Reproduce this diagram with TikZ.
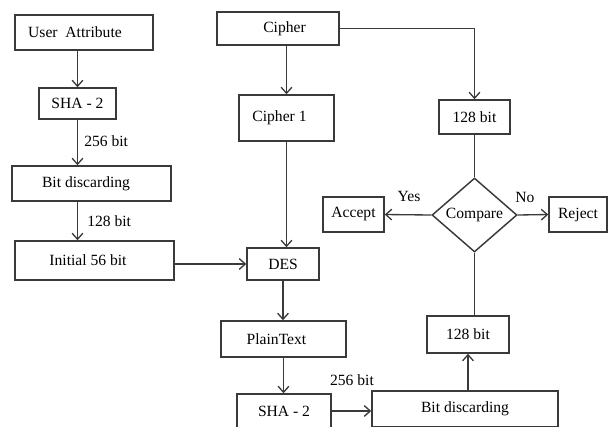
\documentclass[tikz,border=0pt]{standalone}
\usepackage{fontspec}
\setmainfont{Liberation Serif}
\usetikzlibrary{arrows.meta,shapes.geometric}
\definecolor{ln}{HTML}{3A3A3A}
\begin{document}
\begin{tikzpicture}[x=0.75pt,y=-0.75pt,
  font=\fontsize{11.7}{14}\selectfont,
  bx/.style={draw=ln,line width=1.1pt,rectangle,inner sep=0pt,text=black},
  arr/.style={draw=ln,line width=1pt,-{Straight Barb[length=4.5pt,width=8pt]}},
  ln/.style={draw=ln,line width=1pt},
  lbl/.style={inner sep=0pt,text=black}]
\clip (0,0) rectangle (610,426);
% left column
\node[bx,minimum width=103.5pt,minimum height=26.25pt] (ua) at (84,32.5) {User\ \ Attribute\hspace*{13.5pt}};
\node[bx,minimum width=57.75pt,minimum height=23.25pt] (sha1) at (77.5,103.5) {SHA - 2};
\node[bx,minimum width=119.25pt,minimum height=26.25pt] (bd1) at (91.5,183.5) {Bit discarding\hspace*{8.25pt}};
\node[bx,minimum width=119.25pt,minimum height=29.25pt] (init) at (94.5,260.5) {Initial 56 bit\hspace*{9.75pt}};
% middle column
\node[bx,minimum width=91.5pt,minimum height=24.75pt] (ci) at (278,28.5) {\hspace*{9.75pt}Cipher};
\node[bx,minimum width=71.25pt,minimum height=34.5pt] (c1) at (286.5,118) {Cipher 1\hspace*{10.5pt}};
\node[bx,minimum width=54pt,minimum height=24pt] (des) at (283,264) {DES};
\node[bx,minimum width=93.75pt,minimum height=27pt] (pt) at (283.5,339) {PlainText\hspace*{10.5pt}};
\node[bx,minimum width=70.5pt,minimum height=25.5pt] (sha2) at (284,411) {SHA - 2};
% right column
\node[bx,minimum width=53.25pt,minimum height=25.5pt] (ba) at (474.5,117) {128 bit};
\node[bx,diamond,minimum width=63.75pt,minimum height=55.5pt] (cmp) at (474.5,215) {Compare};
\node[bx,minimum width=45.75pt,minimum height=26.25pt] (acc) at (353.5,214.5) {Accept};
\node[bx,minimum width=43.5pt,minimum height=26.25pt] (rej) at (578,214.5) {Reject};
\node[bx,minimum width=61.5pt,minimum height=27.75pt] (bb) at (468,334.5) {128 bit};
\node[bx,minimum width=139.5pt,minimum height=27pt] (bd2) at (465,409) {Bit discarding};
% labels
\node[lbl,anchor=west] (l256a) at (84,141) {256 bit};
\node[lbl,anchor=west] (l128a) at (87,221) {128 bit};
\node[lbl] (lyes) at (409,196) {Yes};
\node[lbl] (lno) at (525,197) {No};
\node[lbl] (l256b) at (352,380) {256 bit};
% connectors
\draw[arr] (sha1.north |- ua.south) -- (sha1.north);
\draw[arr] (sha1.south) -- (sha1.south |- bd1.north);
\draw[arr] (sha1.south |- bd1.south) -- (sha1.south |- init.north);
\draw[arr] (des.west -| init.east) -- (des.west);
\draw[arr] (ci.south -| c1.north) -- (c1.north);
\draw[arr] (c1.south) -- (c1.south |- des.north);
\draw[arr] (ci.east) -| (ba.north);
\draw[ln] (ba.south) -- (cmp.north);
\draw[arr] (cmp.west) -- (acc.east);
\draw[arr] (cmp.east) -- (rej.west);
\draw[ln] (cmp.south) -- (cmp.south |- bb.north);
\draw[arr] (bd2.north -| bb.south) -- (bb.south);
\draw[arr] (des.south) -- (des.south |- pt.north);
\draw[arr] (pt.south) -- (pt.south |- sha2.north);
\draw[arr] (sha2.east) -- (sha2.east -| bd2.west);
\end{tikzpicture}
\end{document}
